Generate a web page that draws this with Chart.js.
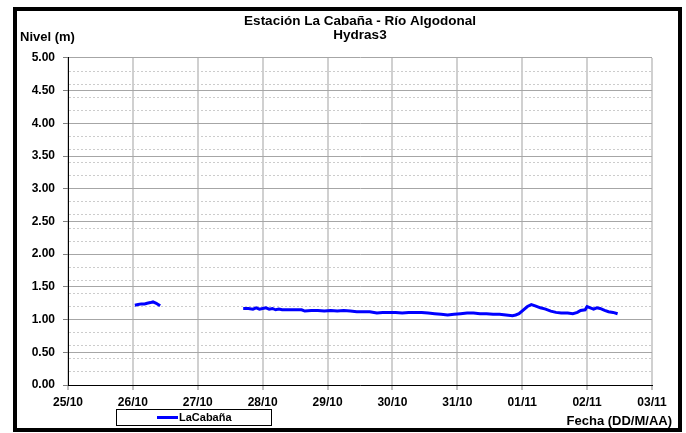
<!DOCTYPE html>
<html>
<head>
<meta charset="utf-8">
<title>Estación La Cabaña - Río Algodonal</title>
<script src="https://cdn.jsdelivr.net/npm/chart.js@4.4.1/dist/chart.umd.min.js"></script>
<style>
  html, body { margin: 0; padding: 0; background: #fff; }
  canvas { display: block; }
</style>
</head>
<body>
<canvas id="nivel-chart" width="686" height="433"></canvas>
<script>
// Fechas del eje X (una por día, desde 25/10)
const DAY_LABELS = ['25/10', '26/10', '27/10', '28/10', '29/10', '30/10', '31/10', '01/11', '02/11', '03/11'];

// Tiempo de cada lectura en días desde 25/10 00:00
const LEVEL_DAYS = [
  1.03, 1.08, 1.13, 1.18, 1.22, 1.27, 1.31, 1.36, 1.42,
  1.50,
  2.70, 2.78, 2.85, 2.90, 2.95, 3.00, 3.05, 3.10, 3.15, 3.20, 3.25, 3.30, 3.40, 3.50, 3.60,
  3.65, 3.75, 3.85, 3.95, 4.05, 4.15, 4.25, 4.35, 4.45, 4.55, 4.65, 4.76, 4.85, 4.95,
  5.05, 5.15, 5.25, 5.35, 5.45, 5.55, 5.65, 5.75, 5.85, 5.95, 6.05, 6.15, 6.25, 6.35,
  6.45, 6.55, 6.65, 6.75, 6.85, 6.90, 6.95, 7.02, 7.08, 7.14, 7.20, 7.28, 7.36, 7.44,
  7.52, 7.60, 7.70, 7.78, 7.85, 7.90, 7.97, 8.00, 8.05, 8.10, 8.15, 8.20, 8.27, 8.33,
  8.40, 8.47,
];

// Nivel (m) de LaCabaña; null = sin datos
const LEVEL_VALUES = [
  1.22, 1.23, 1.24, 1.24, 1.25, 1.26, 1.27, 1.25, 1.21,
  null,
  1.17, 1.17, 1.16, 1.18, 1.16, 1.17, 1.18, 1.16, 1.17, 1.15, 1.16, 1.15, 1.15, 1.15, 1.15,
  1.13, 1.14, 1.14, 1.13, 1.14, 1.13, 1.14, 1.13, 1.12, 1.12, 1.12, 1.10, 1.11, 1.11,
  1.11, 1.10, 1.11, 1.11, 1.11, 1.10, 1.09, 1.08, 1.07, 1.08, 1.09, 1.10, 1.10, 1.09,
  1.09, 1.08, 1.08, 1.07, 1.06, 1.07, 1.09, 1.15, 1.20, 1.23, 1.21, 1.18, 1.16, 1.13,
  1.11, 1.10, 1.10, 1.09, 1.11, 1.14, 1.15, 1.20, 1.18, 1.16, 1.18, 1.17, 1.14, 1.12,
  1.11, 1.09,
];

const SERIES_NAME = 'LaCabaña';
const CHART_TITLE = ['Estación La Cabaña - Río Algodonal', 'Hydras3'];
const Y_AXIS_TITLE = 'Nivel (m)';
const X_AXIS_TITLE = 'Fecha (DD/M/AA)';

const FONT = 'Arial, "Liberation Sans", sans-serif';

const tenths = (v) => Math.round(v * 10);
const isMajor = (v) => tenths(v) % 5 === 0;
const isMinor = (v) => !isMajor(v) && tenths(v) % 2 === 0;

// marco negro, títulos de ejes y leyenda recuadrada
const frameAndLegend = {
  id: 'frameAndLegend',
  afterDraw(chart) {
    const { ctx } = chart;
    const ds = chart.data.datasets[0];
    ctx.save();
    ctx.strokeStyle = '#000';
    ctx.lineWidth = 4;
    ctx.strokeRect(15, 9, 665, 421);

    ctx.fillStyle = '#000';
    ctx.textBaseline = 'middle';
    ctx.font = `bold 13px ${FONT}`;
    ctx.textAlign = 'left';
    ctx.fillText(Y_AXIS_TITLE, 20, 37);
    ctx.textAlign = 'right';
    ctx.fillText(X_AXIS_TITLE, 672, 421);

    ctx.lineWidth = 1;
    ctx.strokeRect(116.5, 409.5, 155, 16);
    ctx.strokeStyle = ds.borderColor;
    ctx.lineWidth = 3;
    ctx.beginPath();
    ctx.moveTo(157, 417.5);
    ctx.lineTo(178, 417.5);
    ctx.stroke();
    ctx.font = `bold 11px ${FONT}`;
    ctx.textAlign = 'left';
    ctx.fillText(ds.label, 179, 418);
    ctx.restore();
  },
};

Chart.defaults.font.family = FONT;
Chart.defaults.color = '#000';

new Chart(document.getElementById('nivel-chart'), {
  type: 'line',
  data: {
    datasets: [
      {
        label: SERIES_NAME,
        data: LEVEL_DAYS.map((d, i) => ({ x: d, y: LEVEL_VALUES[i] })),
        borderColor: '#0000ff',
        borderWidth: 3,
        pointRadius: 0,
        tension: 0,
        spanGaps: false,
        fill: false,
      },
    ],
  },
  options: {
    responsive: false,
    animation: false,
    layout: { padding: { top: 14, left: 0, right: 34, bottom: 0 } },
    plugins: {
      legend: { display: false },
      tooltip: { enabled: false },
      title: {
        display: true,
        fullSize: false,
        text: CHART_TITLE,
        color: '#000',
        font: { size: 13.5, weight: 'bold', lineHeight: 1.05 },
        padding: { top: 0, bottom: 15.6 },
      },
    },
    scales: {
      x: {
        type: 'linear',
        min: 0,
        max: DAY_LABELS.length - 1,
        afterFit(scale) { scale.height = 48; },
        ticks: {
          stepSize: 1,
          autoSkip: false,
          maxRotation: 0,
          padding: 5,
          font: { size: 12, weight: 'bold' },
          callback: (v) => DAY_LABELS[Math.round(v)],
        },
        grid: { color: '#d0d0d0', lineWidth: 2, tickLength: 5, tickWidth: 1, tickColor: '#808080' },
        border: { color: '#000', width: 1, z: 1 },
      },
      y: {
        type: 'linear',
        min: 0,
        max: 5,
        afterFit(scale) { scale.width = 68; },
        ticks: {
          stepSize: 0.1,
          autoSkip: false,
          padding: 8,
          font: { size: 12, weight: 'bold' },
          callback: (v) => (isMajor(v) ? (tenths(v) / 10).toFixed(2) : ''),
        },
        grid: {
          color: (c) => (isMajor(c.tick.value) ? '#a6a6a6' : isMinor(c.tick.value) ? '#cccccc' : 'rgba(0,0,0,0)'),
          lineWidth: 1,
          tickLength: 5,
          tickColor: (c) => (isMajor(c.tick.value) ? '#808080' : 'rgba(0,0,0,0)'),
        },
        border: {
          color: '#000',
          width: 1,
          z: 1,
          dash: (c) => (c.tick && !isMajor(c.tick.value) ? [2, 2] : []),
        },
      },
    },
  },
  plugins: [frameAndLegend],
});
</script>
</body>
</html>
